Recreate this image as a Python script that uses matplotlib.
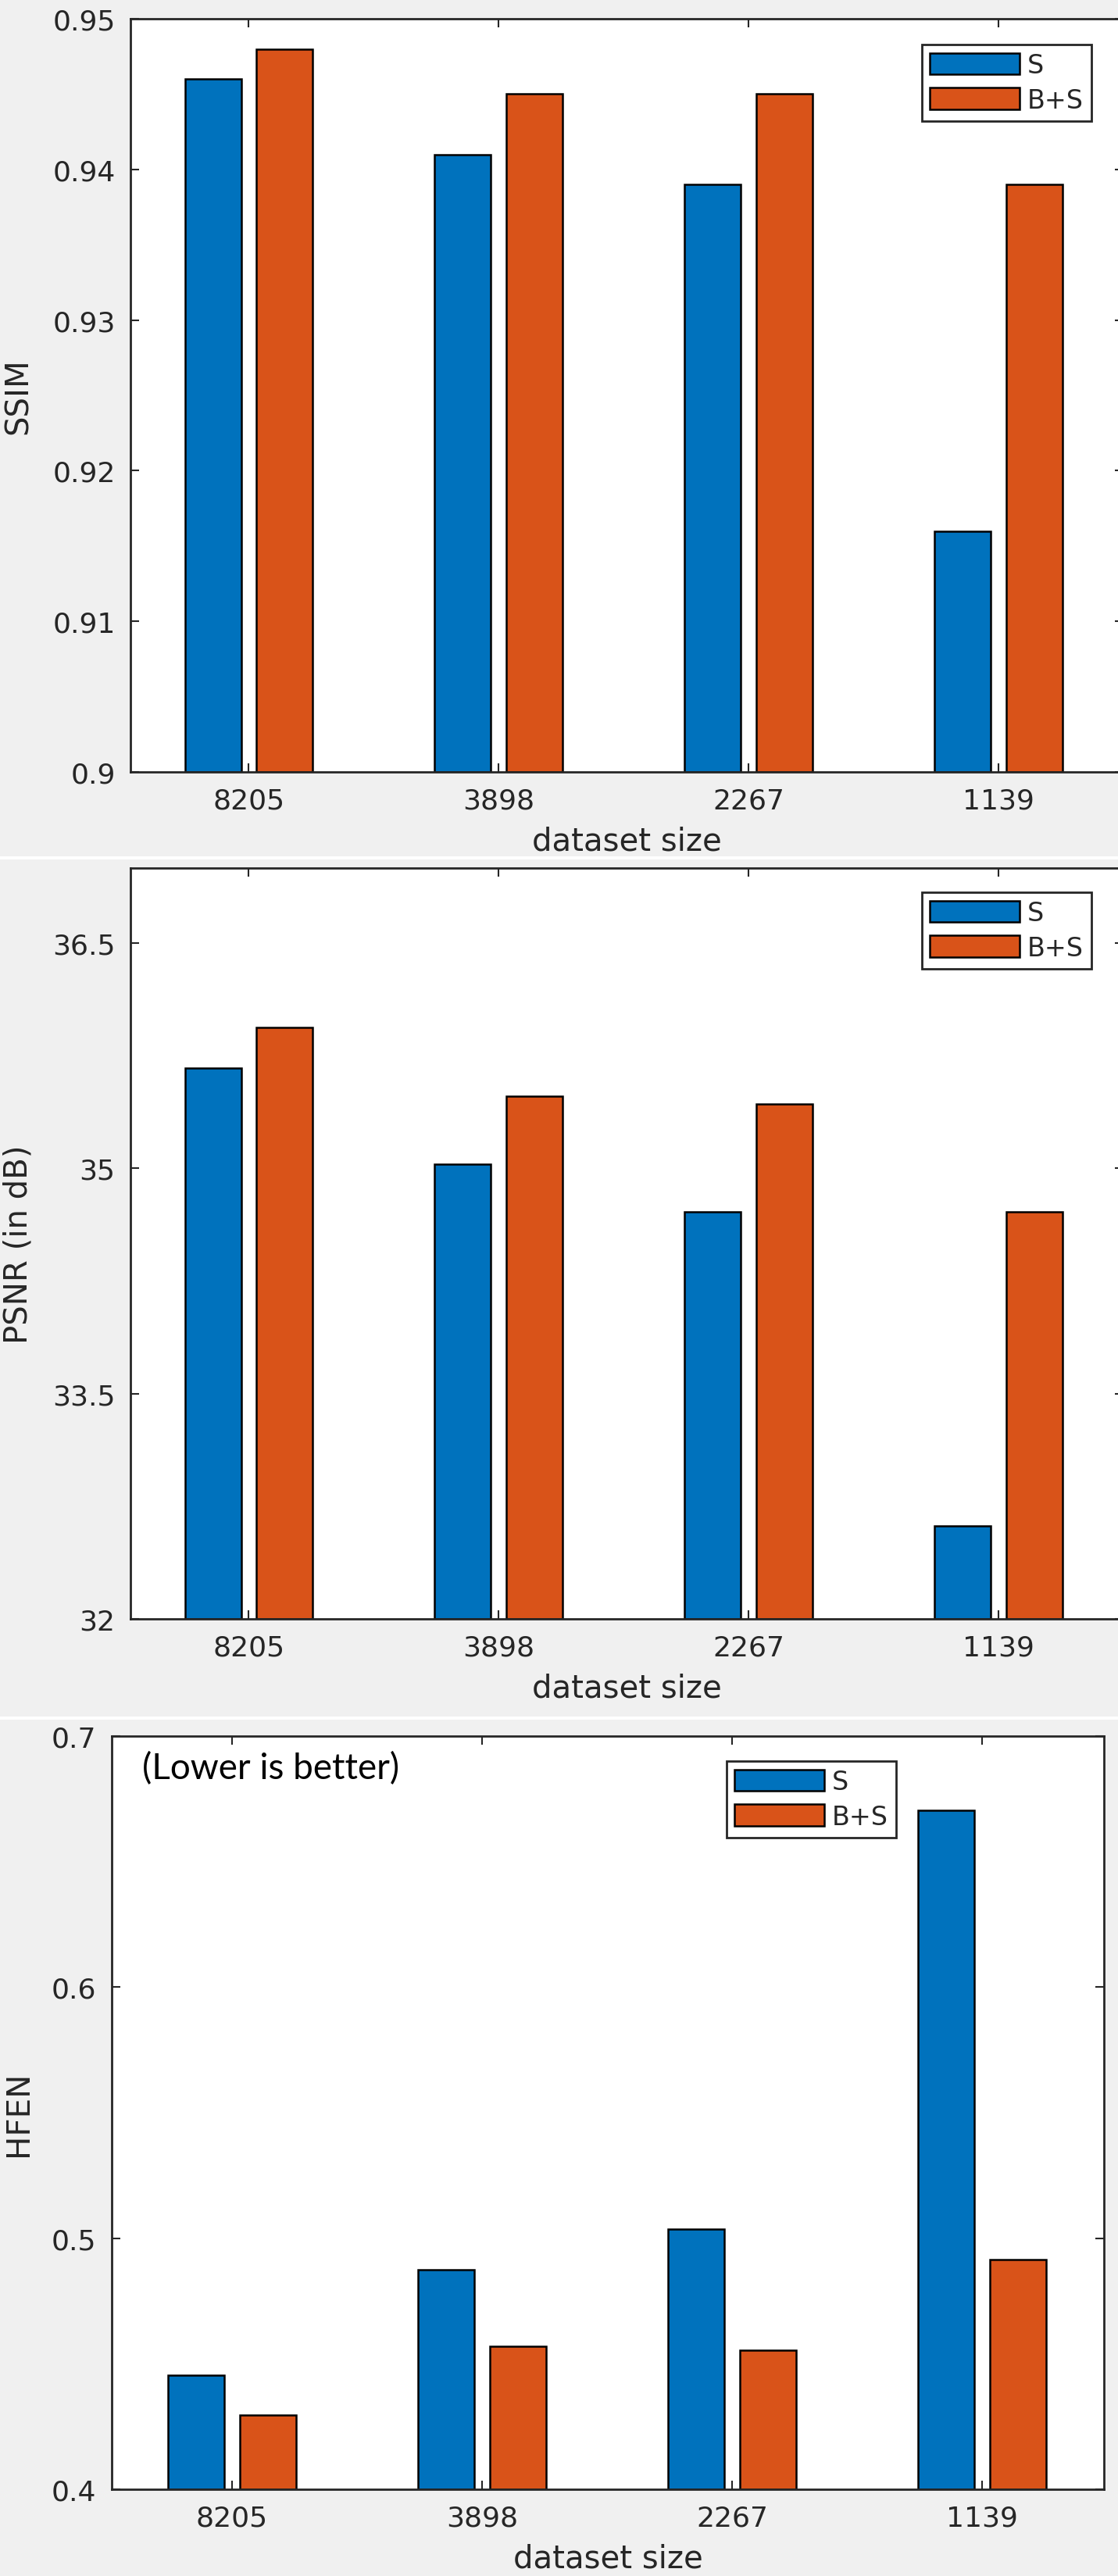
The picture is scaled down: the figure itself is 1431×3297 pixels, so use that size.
#!/usr/bin/env python3

import numpy as np
import matplotlib
matplotlib.use("Agg")
import matplotlib.pyplot as plt
from matplotlib.patches import Rectangle

# data
dataset_sizes = ["8205", "3898", "2267", "1139"]
series_names = ["S", "B+S"]

ssim_s = [0.946, 0.941, 0.939, 0.916]
ssim_bs = [0.948, 0.945, 0.945, 0.939]

psnr_s = [35.67, 35.03, 34.71, 32.62]
psnr_bs = [35.94, 35.48, 35.43, 34.71]

hfen_s = [0.4455, 0.4875, 0.5035, 0.6705]
hfen_bs = [0.4295, 0.4570, 0.4555, 0.4915]

ssim_ticks = [0.9, 0.91, 0.92, 0.93, 0.94, 0.95]
ssim_ticklabels = ["0.9", "0.91", "0.92", "0.93", "0.94", "0.95"]
psnr_ticks = [32, 33.5, 35, 36.5]
psnr_ticklabels = ["32", "33.5", "35", "36.5"]
hfen_ticks = [0.4, 0.5, 0.6, 0.7]
hfen_ticklabels = ["0.4", "0.5", "0.6", "0.7"]

blue = "#0072BD"
orange = "#D95319"
text_colour = "#262626"
bg_colour = "#F0F0F0"

W, H = 1431, 3298
DPI = 100

plt.rcParams['font.family'] = ['DejaVu Sans']

fig = plt.figure(figsize=(W / DPI, H / DPI), dpi=DPI, facecolor=bg_colour)


def px_axes(left, top, right, bottom):
    return [left / W, 1 - bottom / H, (right - left) / W, (bottom - top) / H]


def panel(rect, xlim, s_vals, bs_vals, ylim, ticks, ticklabels, ylabel, legend_box):
    ax = fig.add_axes(px_axes(*rect))
    ax.set_facecolor("white")
    x = np.arange(1, len(dataset_sizes) + 1)
    ax.bar(x - 0.143, np.array(s_vals) - ylim[0], 0.225, bottom=ylim[0],
           color=blue, edgecolor="black", linewidth=1.8, label=series_names[0])
    ax.bar(x + 0.143, np.array(bs_vals) - ylim[0], 0.225, bottom=ylim[0],
           color=orange, edgecolor="black", linewidth=1.8, label=series_names[1])
    ax.set_xlim(*xlim)
    ax.set_ylim(*ylim)
    ax.set_xticks(x)
    ax.set_xticklabels(dataset_sizes)
    ax.set_yticks(ticks)
    ax.set_yticklabels(ticklabels)
    ax.tick_params(direction="in", length=8, width=1.5, top=True, right=True,
                   labelsize=26, labelcolor=text_colour, color=text_colour, pad=14)
    for s in ax.spines.values():
        s.set_color(text_colour)
        s.set_linewidth(2)
    ax.set_xlabel("dataset size", fontsize=29, color=text_colour, labelpad=11)
    ax.set_ylabel(ylabel, fontsize=29, color=text_colour)
    # right edge of the rotated label sits about 44 px from the figure edge
    left, right = rect[0], rect[2]
    ax.yaxis.set_label_coords((44 - left) / (right - left), 0.5)

    lx, ly = legend_box
    leg = ax.legend(loc="upper left", bbox_to_anchor=(lx / W, 1 - ly / H),
                    bbox_transform=fig.transFigure, fancybox=False, fontsize=24,
                    handlelength=3.45, handleheight=0.9, handletextpad=0.3,
                    labelspacing=0.35, borderpad=0.3, borderaxespad=0,
                    edgecolor=text_colour, framealpha=1)
    leg.get_frame().set_linewidth(2)
    for t in leg.get_texts():
        t.set_color(text_colour)
    return ax


panel((167, 25, 1438, 989), (0.527, 4.5), ssim_s, ssim_bs, (0.9, 0.95),
      ssim_ticks, ssim_ticklabels, "SSIM", (1180, 58))
panel((167, 1112, 1438, 2073), (0.527, 4.5), psnr_s, psnr_bs, (32, 37),
      psnr_ticks, psnr_ticklabels, "PSNR (in dB)", (1180, 1143))
panel((143, 2223, 1413, 3187), (0.519, 4.487), hfen_s, hfen_bs, (0.4, 0.7),
      hfen_ticks, hfen_ticklabels, "HFEN", (930, 2255))

fig.text(182 / W, 1 - 2264 / H, "(Lower is better)", family=["Lato", "DejaVu Sans"],
         fontsize=33, color="black", ha="left", va="center")

# white seams between the stacked screenshots
for y in (1097, 2198):
    fig.patches.append(Rectangle((0, 1 - (y + 4) / H), 1, 4 / H, transform=fig.transFigure,
                                 facecolor="white", edgecolor="none", zorder=0))

fig.savefig("out.png", dpi=DPI, facecolor=bg_colour)
